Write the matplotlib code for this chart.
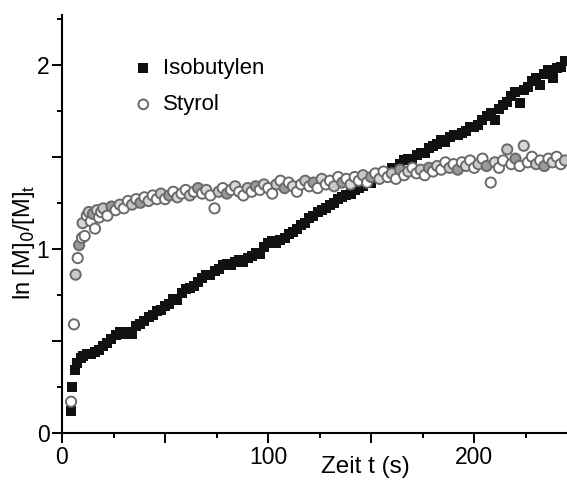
import numpy as np
import matplotlib
matplotlib.use('Agg')
import matplotlib.pyplot as plt
from matplotlib.ticker import MultipleLocator, FuncFormatter

plt.rcParams['font.family'] = ['Liberation Sans', 'DejaVu Sans']

# Isobutylen: time (s) and ln([M]0/[M]t)
iso_t = [4.2, 5.0, 6.2, 7.5, 9, 10, 12, 14, 16, 18, 20, 22, 24, 26, 28, 30, 32, 34, 36, 38,
         40, 42, 44, 46, 48, 50, 52, 54, 56, 58, 60, 62, 64, 66, 68, 70, 72, 74, 76, 78,
         80, 82, 84, 86, 88, 90, 92, 94, 96, 98, 100, 102, 104, 106, 108, 110, 112, 114, 116, 118,
         120, 122, 124, 126, 128, 130, 132, 134, 136, 138, 140, 142, 144, 146, 148, 150, 152, 154, 156, 158,
         160, 162, 164, 166, 168, 170, 172, 174, 176, 178, 180, 182, 184, 186, 188, 190, 192, 194, 196, 198,
         200, 202, 204, 206, 208, 210, 212, 214, 216, 218, 220, 222, 224, 226, 228, 230, 232, 234, 236, 238,
         240, 242, 244]
iso_y = [0.12, 0.25, 0.34, 0.38, 0.41, 0.42, 0.43, 0.43, 0.44, 0.45, 0.47, 0.49, 0.51, 0.53, 0.55, 0.54, 0.55, 0.54, 0.58, 0.59,
         0.61, 0.63, 0.64, 0.66, 0.67, 0.69, 0.70, 0.73, 0.72, 0.76, 0.78, 0.79, 0.80, 0.82, 0.84, 0.86, 0.86, 0.88, 0.89, 0.91,
         0.92, 0.91, 0.93, 0.94, 0.93, 0.95, 0.96, 0.98, 0.97, 1.01, 1.03, 1.04, 1.03, 1.05, 1.06, 1.08, 1.09, 1.11, 1.13, 1.14,
         1.17, 1.18, 1.20, 1.21, 1.22, 1.24, 1.25, 1.27, 1.28, 1.29, 1.30, 1.32, 1.33, 1.34, 1.36, 1.36, 1.38, 1.40, 1.41, 1.42,
         1.44, 1.44, 1.46, 1.48, 1.49, 1.49, 1.51, 1.52, 1.52, 1.55, 1.56, 1.57, 1.59, 1.58, 1.61, 1.62, 1.62, 1.63, 1.64, 1.66,
         1.66, 1.67, 1.70, 1.72, 1.74, 1.70, 1.76, 1.78, 1.80, 1.83, 1.85, 1.79, 1.86, 1.88, 1.91, 1.93, 1.89, 1.95, 1.97, 1.93,
         1.98, 1.99, 2.02]

# Styrol
sty_t = [4.4, 5.8, 6.6, 7.6, 8.3, 9.7, 10, 11, 12, 13, 14, 15, 16, 17, 18, 19,
         20, 22, 24, 26, 28, 30, 32, 34, 36, 38, 40, 42, 44, 46, 48, 50, 52, 54, 56, 58,
         60, 62, 64, 66, 68, 70, 72, 74, 76, 78, 80, 82, 84, 86, 88, 90, 92, 94, 96, 98,
         100, 102, 104, 106, 108, 110, 112, 114, 116, 118, 120, 122, 124, 126, 128, 130, 132, 134, 136, 138,
         140, 142, 144, 146, 148, 150, 152, 154, 156, 158, 160, 162, 164, 166, 168, 170, 172, 174, 176, 178,
         180, 182, 184, 186, 188, 190, 192, 194, 196, 198, 200, 202, 204, 206, 208, 210, 212, 214, 216, 218,
         220, 222, 224, 226, 228, 230, 232, 234, 236, 238, 240, 242, 244]
sty_y = [0.17, 0.59, 0.86, 0.95, 1.02, 1.06, 1.14, 1.07, 1.18, 1.20, 1.15, 1.19, 1.11, 1.21, 1.17, 1.20,
         1.22, 1.18, 1.23, 1.21, 1.24, 1.22, 1.26, 1.24, 1.27, 1.25, 1.28, 1.26, 1.29, 1.27, 1.30, 1.27, 1.29, 1.31, 1.28, 1.30,
         1.32, 1.29, 1.31, 1.33, 1.30, 1.32, 1.29, 1.22, 1.31, 1.33, 1.30, 1.32, 1.34, 1.31, 1.29, 1.33, 1.31, 1.34, 1.32, 1.35,
         1.33, 1.30, 1.35, 1.37, 1.33, 1.36, 1.34, 1.31, 1.35, 1.37, 1.34, 1.36, 1.33, 1.38, 1.35, 1.37, 1.34, 1.39, 1.36, 1.38,
         1.35, 1.39, 1.37, 1.40, 1.36, 1.39, 1.41, 1.38, 1.42, 1.39, 1.41, 1.38, 1.43, 1.40, 1.42, 1.44, 1.41, 1.43, 1.40, 1.44,
         1.42, 1.45, 1.43, 1.47, 1.44, 1.46, 1.43, 1.47, 1.45, 1.48, 1.44, 1.46, 1.49, 1.45, 1.36, 1.47, 1.44, 1.48, 1.54, 1.46,
         1.49, 1.45, 1.56, 1.47, 1.50, 1.46, 1.48, 1.45, 1.49, 1.47, 1.50, 1.46, 1.48]

fig = plt.figure(figsize=(5.67, 4.8), dpi=100)
ax = fig.add_axes([62/567, 47/480, 505/567, 418/480])

# open circles, some of them filled grey like in the scan
faces = ['white', 'white', '#c8c8c8', 'white', '#9a9a9a', 'white', '#d8d8d8']
sty_faces = [faces[i % len(faces)] for i in range(len(sty_t))]

ax.scatter(iso_t, iso_y, marker='s', s=52, color='#111111', linewidths=0, label='Isobutylen', zorder=2)
ax.scatter(sty_t, sty_y, marker='o', s=54, facecolors=sty_faces, edgecolors='#6a6a6a',
           linewidths=1.4, label='Styrol', zorder=3)

ax.set_xlim(0, 245)
ax.set_ylim(0, 2.27)

for side in ['top', 'right']:
    ax.spines[side].set_visible(False)
for side in ['left', 'bottom']:
    ax.spines[side].set_linewidth(1.5)

# Tick setup, labels only at integers / hundreds
ax.xaxis.set_major_locator(MultipleLocator(50))
ax.xaxis.set_minor_locator(MultipleLocator(25))
ax.yaxis.set_major_locator(MultipleLocator(0.5))
ax.yaxis.set_minor_locator(MultipleLocator(0.25))
ax.xaxis.set_major_formatter(FuncFormatter(lambda v, p: '%d' % v if v % 100 == 0 else ''))
ax.yaxis.set_major_formatter(FuncFormatter(lambda v, p: '%d' % v if v % 1 == 0 else ''))
ax.tick_params(which='major', direction='out', length=7, width=1.4, labelsize=16.5, pad=2)
ax.tick_params(which='minor', direction='out', length=3.5, width=1.4)

ax.set_xlabel('Zeit t (s)', fontsize=17.5)
ax.xaxis.set_label_coords(0.60, -0.056)
ax.set_ylabel('ln [M]$_0$/[M]$_\\mathregular{t}$', fontsize=17)
ax.yaxis.set_label_coords(-0.049, 0.457)

ax.legend(loc='upper left', bbox_to_anchor=(0.139, 0.898), frameon=False, fontsize=16,
          handlelength=1.0, handletextpad=0.4, labelspacing=0.7, borderpad=0,
          borderaxespad=0, markerscale=0.95, scatterpoints=1)

fig.savefig('out.png', dpi=100)
